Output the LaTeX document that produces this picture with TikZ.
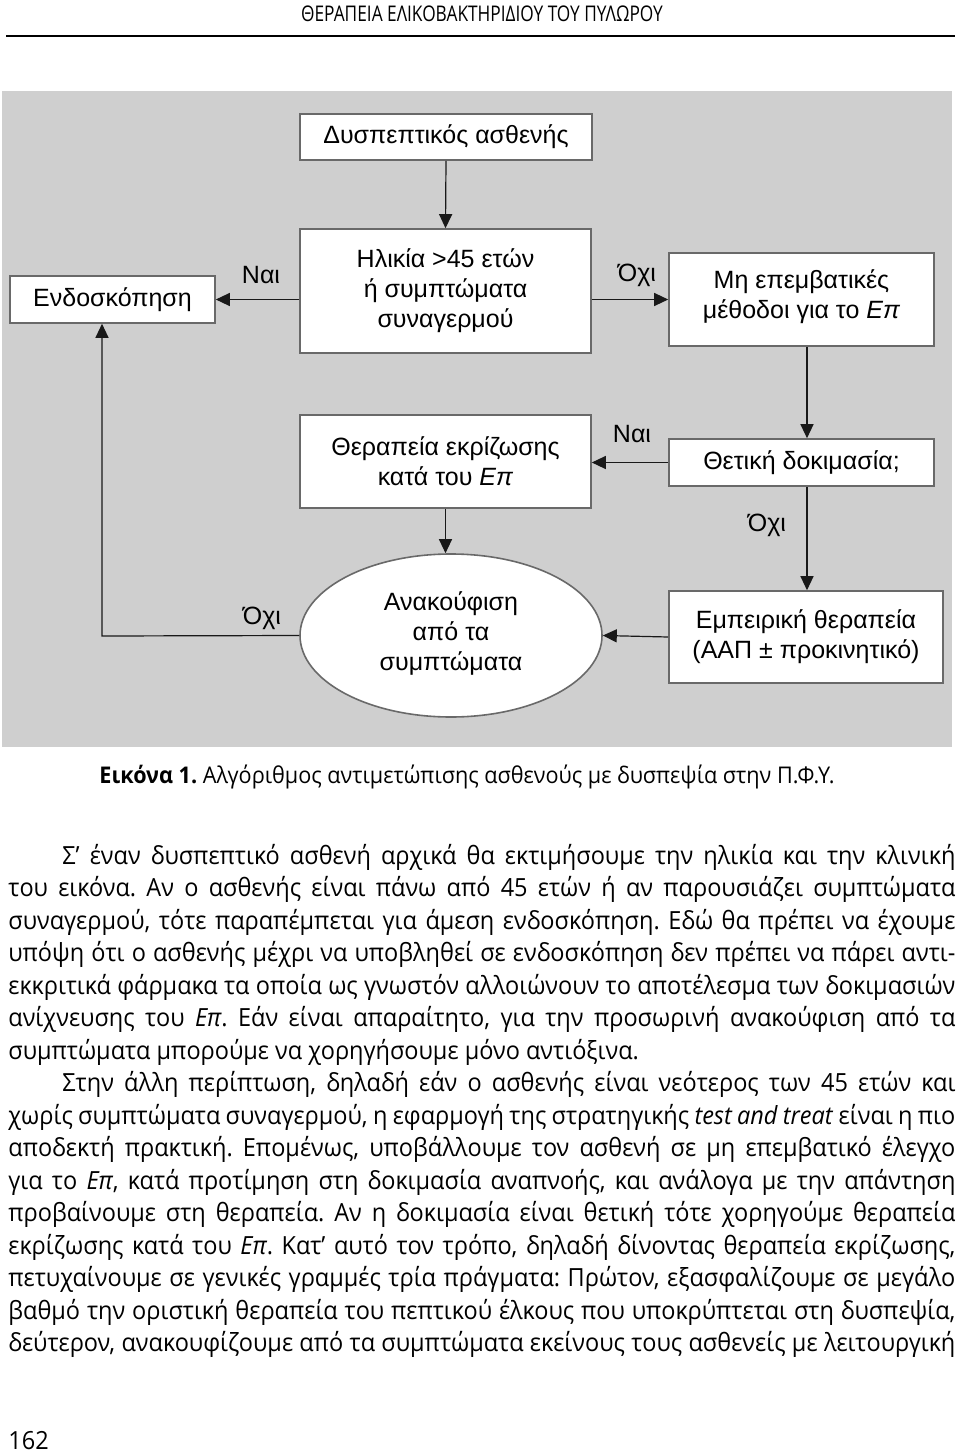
\documentclass[tikz,border=0pt]{standalone}
\usepackage{fontspec}
\usetikzlibrary{arrows.meta,shapes.geometric}
\newfontfamily\diagfont{Liberation Sans}
\newfontfamily\bodyfont[FakeStretch=0.94]{Open Sans}
\newfontfamily\hdrfont[FakeStretch=0.8]{Open Sans}
\definecolor{bggray}{RGB}{207,207,207}
\definecolor{boxline}{RGB}{105,105,105}
\definecolor{arr}{RGB}{25,25,25}
\newcommand{\jl}[2]{\makebox[#1][s]{#2}}
\frenchspacing
\begin{document}
\begin{tikzpicture}[x=0.5pt,y=-0.5pt,
  box/.style={draw=boxline,line width=0.8pt,fill=white,font=\diagfont\fontsize{12.5}{15}\selectfont,align=center,inner sep=0pt},
  oval/.style={ellipse,draw=boxline,line width=0.8pt,fill=white,font=\diagfont\fontsize{12.5}{15}\selectfont,align=center,inner sep=0pt},
  conn/.style={draw=arr,line width=0.6pt,-{Triangle[length=7pt,width=6.5pt]}},
  lbl/.style={font=\diagfont\fontsize{12.5}{15}\selectfont,inner sep=0pt},
  bodyline/.style={anchor=base west,inner sep=0pt,font=\bodyfont\fontsize{12.5}{16}\selectfont\frenchspacing}
]
\useasboundingbox (0,0) rectangle (960,1455);
\fill[white] (0,0) rectangle (960,1455);

% header
\node[inner sep=0pt,font=\hdrfont\fontsize{10.8}{12}\selectfont] (hdr) at (482,14) {ΘΕΡΑΠΕΙΑ ΕΛΙΚΟΒΑΚΤΗΡΙΔΙΟΥ ΤΟΥ ΠΥΛΩΡΟΥ};
\draw[line width=1pt,black] (6,36) -- (955,36);

% diagram background
\fill[bggray] (2,91) rectangle (952,747);

% boxes
\node[box,minimum width=146pt,minimum height=23pt] (A) at (446,137) {Δυσπεπτικός ασθενής};
\node[box,minimum width=145.5pt,minimum height=62pt] (B) at (445.5,291) {Ηλικία >45 ετών\\ή συμπτώματα\\συναγερμού};
\node[box,minimum width=102.5pt,minimum height=23.5pt] (C) at (112.5,299.5) {Ενδοσκόπηση};
\node[box,minimum width=132.5pt,minimum height=46.5pt] (D) at (801.5,299.5) {Μη επεμβατικές\\μέθοδοι για το \textit{Επ}\rule[-5pt]{0pt}{0pt}};
\node[box,minimum width=132.5pt,minimum height=23.5pt] (E) at (801.5,462.5) {Θετική δοκιμασία;};
\node[box,minimum width=145.5pt,minimum height=46.5pt] (F) at (445.5,461.5) {Θεραπεία εκρίζωσης\\κατά του \textit{Επ}};
\node[oval,minimum width=151pt,minimum height=81.5pt] (G) at (451,635.5) {Ανακούφιση\\από τα\\συμπτώματα\rule[-4pt]{0pt}{0pt}};
\node[box,minimum width=137pt,minimum height=46pt] (H) at (806,637) {Εμπειρική θεραπεία\\(ΑΑΠ ± προκινητικό)};

\coordinate (vx) at (807,0);
\coordinate (lx) at (102,636);

% connectors
\draw[conn] (A.south) -- (B.north);
\draw[conn] (B.west |- C.east) -- (C.east);
\draw[conn] (B.east |- D.west) -- (D.west);
\draw[conn] (D.south -| vx) -- (E.north -| vx);
\draw[conn] (E.west) -- (E.west -| F.east);
\draw[conn] (E.south -| vx) -- (H.north -| vx);
\draw[conn] (F.south) -- (G.north -| F.south);
\draw[conn] (H.west) -- (G.east);
\draw[conn] (G.west) -- (lx) -- (lx |- C.south);

% labels
\node[lbl] (l1) at (261,275) {Ναι};
\node[lbl] (l2) at (637,275) {Όχι};
\node[lbl] (l3) at (632,434) {Ναι};
\node[lbl] (l4) at (767,525) {Όχι};
\node[lbl] (l5) at (262,618) {Όχι};

% caption
\node[inner sep=0pt,font=\bodyfont\fontsize{11.5}{13}\selectfont] (cap) at (467,777) {\textbf{Εικόνα 1.} Αλγόριθμος αντιμετώπισης ασθενούς με δυσπεψία στην Π.Φ.Υ.};

% body text
\node[bodyline] (t1) at (62,864) {\jl{446.5pt}{Σ’ έναν δυσπεπτικό ασθενή αρχικά θα εκτιμήσουμε την ηλικία και την κλινική}};
\node[bodyline] (t2) at (8,896.5) {\jl{473.5pt}{του εικόνα. Αν ο ασθενής είναι πάνω από 45 ετών ή αν παρουσιάζει συμπτώματα}};
\node[bodyline] (t3) at (8,929) {\jl{473.5pt}{συναγερμού, τότε παραπέμπεται για άμεση ενδοσκόπηση. Εδώ θα πρέπει να έχουμε}};
\node[bodyline] (t4) at (8,961.5) {\jl{473.5pt}{υπόψη ότι ο ασθενής μέχρι να υποβληθεί σε ενδοσκόπηση δεν πρέπει να πάρει αντι-}};
\node[bodyline] (t5) at (8,994) {\jl{473.5pt}{εκκριτικά φάρμακα τα οποία ως γνωστόν αλλοιώνουν το αποτέλεσμα των δοκιμασιών}};
\node[bodyline] (t6) at (8,1026.5) {\jl{473.5pt}{ανίχνευσης του \textit{Επ}. Εάν είναι απαραίτητο, για την προσωρινή ανακούφιση από τα}};
\node[bodyline] (t7) at (8,1059) {συμπτώματα μπορούμε να χορηγήσουμε μόνο αντιόξινα.};
\node[bodyline] (t8) at (62,1091.5) {\jl{446.5pt}{Στην άλλη περίπτωση, δηλαδή εάν ο ασθενής είναι νεότερος των 45 ετών και}};
\node[bodyline] (t9) at (8,1124) {\jl{473.5pt}{χωρίς συμπτώματα συναγερμού, η εφαρμογή της στρατηγικής \textit{test and treat} είναι η πιο}};
\node[bodyline] (t10) at (8,1156.5) {\jl{473.5pt}{αποδεκτή πρακτική. Επομένως, υποβάλλουμε τον ασθενή σε μη επεμβατικό έλεγχο}};
\node[bodyline] (t11) at (8,1189) {\jl{473.5pt}{για το \textit{Επ}, κατά προτίμηση στη δοκιμασία αναπνοής, και ανάλογα με την απάντηση}};
\node[bodyline] (t12) at (8,1221.5) {\jl{473.5pt}{προβαίνουμε στη θεραπεία. Αν η δοκιμασία είναι θετική τότε χορηγούμε θεραπεία}};
\node[bodyline] (t13) at (8,1254) {\jl{473.5pt}{εκρίζωσης κατά του \textit{Επ}. Κατ’ αυτό τον τρόπο, δηλαδή δίνοντας θεραπεία εκρίζωσης,}};
\node[bodyline] (t14) at (8,1286.5) {\jl{473.5pt}{πετυχαίνουμε σε γενικές γραμμές τρία πράγματα: Πρώτον, εξασφαλίζουμε σε μεγάλο}};
\node[bodyline] (t15) at (8,1319) {\jl{473.5pt}{βαθμό την οριστική θεραπεία του πεπτικού έλκους που υποκρύπτεται στη δυσπεψία,}};
\node[bodyline] (t16) at (8,1351.5) {\jl{473.5pt}{δεύτερον, ανακουφίζουμε από τα συμπτώματα εκείνους τους ασθενείς με λειτουργική}};

% page number
\node[bodyline] (pg) at (8,1449) {162};
\end{tikzpicture}
\end{document}
